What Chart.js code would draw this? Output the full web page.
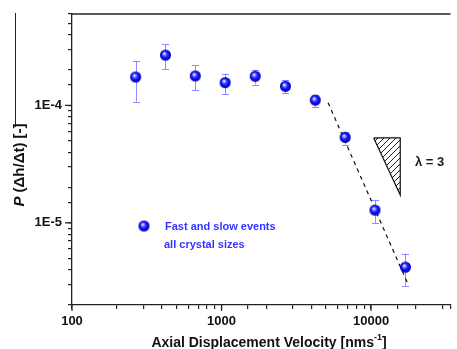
<!DOCTYPE html>
<html>
<head>
<meta charset="utf-8">
<script src="https://cdn.jsdelivr.net/npm/chart.js@4.4.1/dist/chart.umd.min.js"></script>
<style>
  html, body { margin: 0; padding: 0; background: #fff; }
  #wrap { width: 457px; height: 349px; }
</style>
</head>
<body>
<div id="wrap"><canvas id="velChart" width="457" height="349"></canvas></div>
<script>
// measured points: axial displacement velocity (nm/s) vs probability
const velocity    = [266.6, 421.7, 667.4, 1057.6, 1681, 2677, 4236, 6714, 10623, 16989];
const probability = [1.747e-4, 2.682e-4, 1.783e-4, 1.565e-4, 1.772e-4, 1.455e-4, 1.110e-4, 5.35e-5, 1.285e-5, 4.2e-6];
const errUpper    = [2.397e-4, 3.312e-4, 2.202e-4, 1.869e-4, 2.007e-4, 1.647e-4, 1.225e-4, 5.99e-5, 1.556e-5, 5.47e-6];
const errLower    = [1.076e-4, 2.023e-4, 1.352e-4, 1.242e-4, 1.504e-4, 1.275e-4, 0.967e-4, 4.63e-5, 1.0e-5, 2.92e-6];

// dashed power law guide
const fitX = [5159, 17860];
const fitY = [1.055e-4, 2.92e-6];

// slope triangle (lambda = 3)
const triX = [10418, 15683, 15683, 10418];
const triY = [5.29e-5, 5.29e-5, 1.727e-5, 5.29e-5];

const xTickLabels = [100, 1000, 10000];
const yTickLabels = [1e-5, 1e-4];

const legendText = ["Fast and slow events", "all crystal sizes"];
const slopeText = "\u03bb = 3";

function isDecade(v) {
    let l = Math.log10(v);
    return Math.abs(l - Math.round(l)) < 1e-9;
}

// shaded ball marker
function makeBall(r) {
    let c = document.createElement("canvas");
    let s = r * 2 + 2;
    c.width = s; c.height = s;
    let g = c.getContext("2d");
    let cx = s / 2, cy = s / 2;
    let grad = g.createRadialGradient(cx - r * 0.25, cy - r * 0.3, 0.3, cx, cy, r);
    grad.addColorStop(0, "#ffffff");
    grad.addColorStop(0.22, "#8a8aff");
    grad.addColorStop(0.5, "#2020ff");
    grad.addColorStop(0.85, "#0000d8");
    grad.addColorStop(1, "#00009a");
    g.fillStyle = grad;
    g.beginPath();
    g.arc(cx, cy, r, 0, Math.PI * 2);
    g.fill();
    return c;
}

function makeHatch(size) {
    let c = document.createElement("canvas");
    c.width = size; c.height = size;
    let g = c.getContext("2d");
    g.strokeStyle = "#222";
    g.lineWidth = 1;
    g.beginPath();
    for (let k = -1; k <= 1; k++) {
        g.moveTo(k * size, size);
        g.lineTo(k * size + size, 0);
    }
    g.stroke();
    return g.createPattern(c, "repeat");
}

let canvas = document.getElementById("velChart");
let ctx = canvas.getContext("2d");
const ball = makeBall(5.5);
const hatch = makeHatch(6);

const decorPlugin = {
    id: "decor",
    beforeDatasetsDraw(chart) {
        // error bars behind the markers
        let xs = chart.scales.x, ys = chart.scales.y;
        let c = chart.ctx;
        c.save();
        c.strokeStyle = "#8c8cff";
        c.lineWidth = 1;
        for (let i = 0; i < velocity.length; i++) {
            let px = Math.round(xs.getPixelForValue(velocity[i])) + 0.5;
            let top = ys.getPixelForValue(errUpper[i]);
            let bot = ys.getPixelForValue(errLower[i]);
            c.beginPath();
            c.moveTo(px, top); c.lineTo(px, bot);
            c.moveTo(px - 3.5, Math.round(top) + 0.5); c.lineTo(px + 3.5, Math.round(top) + 0.5);
            c.moveTo(px - 3.5, Math.round(bot) + 0.5); c.lineTo(px + 3.5, Math.round(bot) + 0.5);
            c.stroke();
        }
        c.restore();
    },
    afterDraw(chart) {
        let c = chart.ctx;
        let a = chart.chartArea;
        let xs = chart.scales.x, ys = chart.scales.y;
        c.save();
        // top frame line
        c.strokeStyle = "#222";
        c.lineWidth = 1.3;
        c.beginPath();
        c.moveTo(a.left, a.top); c.lineTo(a.right, a.top);
        c.stroke();

        // longer major ticks
        c.lineWidth = 1.2;
        c.beginPath();
        xTickLabels.forEach(v => {
            let px = xs.getPixelForValue(v);
            c.moveTo(px, a.bottom); c.lineTo(px, a.bottom + 6);
        });
        yTickLabels.forEach(v => {
            let py = ys.getPixelForValue(v);
            c.moveTo(a.left, py); c.lineTo(a.left - 7, py);
        });
        c.stroke();

        // y title
        c.save();
        c.translate(20, 165);
        c.rotate(-Math.PI / 2);
        c.fillStyle = "#111";
        c.textBaseline = "middle";
        c.font = "italic bold 15px 'Liberation Sans', Arial, sans-serif";
        let pw = c.measureText("P ").width;
        c.font = "bold 15px 'Liberation Sans', Arial, sans-serif";
        let rest = "(\u0394h/\u0394t) [-]";
        let rw = c.measureText(rest).width;
        let start = -(pw + rw) / 2;
        c.font = "italic bold 15px 'Liberation Sans', Arial, sans-serif";
        c.fillText("P", start, 0);
        c.font = "bold 15px 'Liberation Sans', Arial, sans-serif";
        c.fillText(rest, start + pw, 0);
        c.restore();
        c.strokeStyle = "#222";
        c.lineWidth = 1;
        c.beginPath();
        c.moveTo(15.5, 13); c.lineTo(15.5, 127);
        c.stroke();

        // x title with superscript
        c.fillStyle = "#111";
        c.textBaseline = "alphabetic";
        c.font = "bold 14px 'Liberation Sans', Arial, sans-serif";
        let main = "Axial Displacement Velocity [nms";
        let mw = c.measureText(main).width;
        c.font = "bold 9px 'Liberation Sans', Arial, sans-serif";
        let sw = c.measureText("-1").width;
        c.font = "bold 14px 'Liberation Sans', Arial, sans-serif";
        let bw = c.measureText("]").width;
        let x0 = 269 - (mw + sw + bw) / 2;
        c.fillText(main, x0, 347);
        c.font = "bold 9px 'Liberation Sans', Arial, sans-serif";
        c.fillText("-1", x0 + mw, 340);
        c.font = "bold 14px 'Liberation Sans', Arial, sans-serif";
        c.fillText("]", x0 + mw + sw, 347);

        // legend
        c.drawImage(ball, 144 - ball.width / 2, 226 - ball.height / 2);
        c.fillStyle = "#3434ff";
        c.font = "bold 11px 'Liberation Sans', Arial, sans-serif";
        c.textBaseline = "middle";
        c.fillText(legendText[0], 165, 227);
        c.fillText(legendText[1], 164, 245);

        // slope label
        c.fillStyle = "#1a1a1a";
        c.font = "bold 13px 'Liberation Sans', Arial, sans-serif";
        c.fillText(slopeText, 415, 162);
        c.restore();
    }
};

const axisFont = { family: "'Liberation Sans', Arial, sans-serif", size: 13, weight: "bold" };

new Chart(ctx, {
    type: "line",
    data: {
        datasets: [
            {
                label: "Fast and slow events",
                data: velocity.map((v, i) => ({ x: v, y: probability[i] })),
                showLine: false,
                pointStyle: ball,
                pointRadius: 5.5,
                pointHoverRadius: 5.5,
                order: 0
            },
            {
                label: "fit",
                data: fitX.map((v, i) => ({ x: v, y: fitY[i] })),
                borderColor: "#111",
                borderWidth: 1.2,
                borderDash: [4, 4],
                pointRadius: 0,
                fill: false,
                order: 2
            },
            {
                label: "slope",
                data: triX.map((v, i) => ({ x: v, y: triY[i] })),
                borderColor: "#111",
                borderWidth: 1.2,
                backgroundColor: hatch,
                pointRadius: 0,
                fill: "shape",
                order: 3
            }
        ]
    },
    options: {
        responsive: false,
        animation: false,
        layout: { padding: { top: 14, left: 0, right: 0, bottom: 0 } },
        plugins: {
            legend: { display: false },
            tooltip: { enabled: false },
            title: { display: false }
        },
        scales: {
            x: {
                type: "logarithmic",
                min: 100,
                max: 34000,
                border: { color: "#222", width: 1.3 },
                grid: { drawOnChartArea: false, drawTicks: true, tickLength: 4, color: "#222", lineWidth: 1.2 },
                ticks: {
                    autoSkip: false,
                    maxRotation: 0,
                    padding: 5,
                    color: "#111",
                    font: axisFont,
                    callback: v => (isDecade(v) && xTickLabels.includes(Math.round(v))) ? String(Math.round(v)) : ""
                },
                afterFit: s => { s.height = 44; }
            },
            y: {
                type: "logarithmic",
                min: 2e-6,
                max: 6e-4,
                border: { color: "#222", width: 1.3 },
                grid: { drawOnChartArea: false, drawTicks: true, tickLength: 4, color: "#222", lineWidth: 1.2 },
                ticks: {
                    autoSkip: false,
                    padding: 6,
                    color: "#111",
                    font: axisFont,
                    callback: v => isDecade(v) ? "1E" + Math.round(Math.log10(v)) : ""
                },
                afterFit: s => { s.width = 72; }
            }
        }
    },
    plugins: [decorPlugin]
});
</script>
</body>
</html>
